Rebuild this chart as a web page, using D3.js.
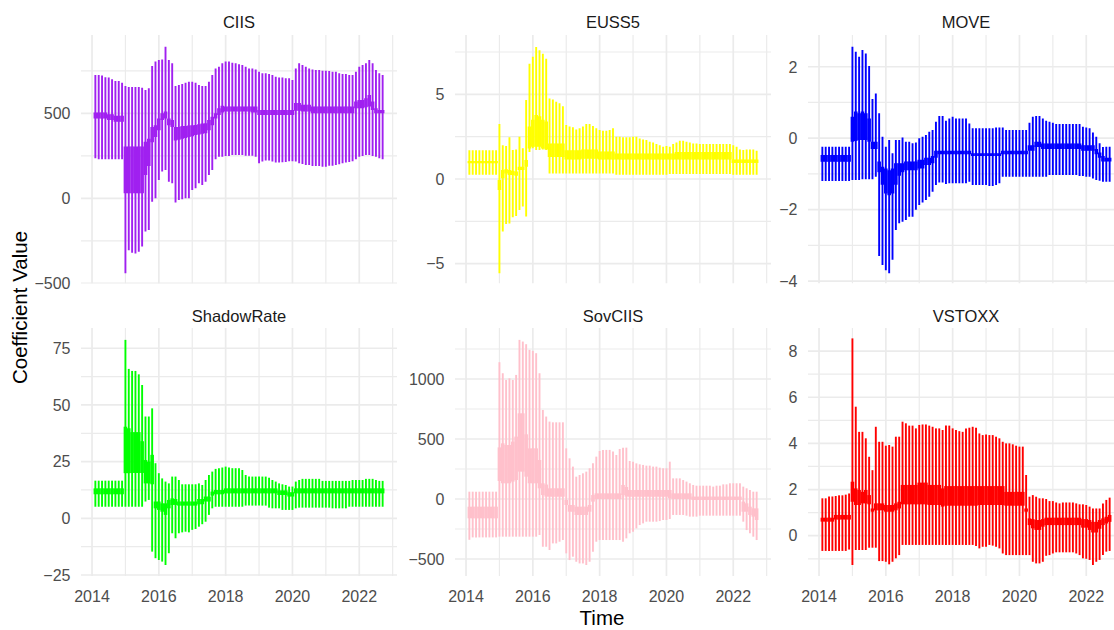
<!DOCTYPE html>
<html><head><meta charset="utf-8">
<script src="https://cdn.jsdelivr.net/npm/d3@7"></script>
<style>html,body{margin:0;padding:0;background:#fff;overflow:hidden}svg{display:block}</style>
</head><body>
<svg id="chart" width="1114" height="630"></svg>
<script>
const years = [2014.1,2014.2,2014.3,2014.4,2014.5,2014.6,2014.7,2014.8,2014.9,2015.0,
2015.1,2015.2,2015.3,2015.4,2015.5,2015.6,2015.7,2015.8,2015.9,2016.0,
2016.1,2016.2,2016.3,2016.4,2016.5,2016.6,2016.7,2016.8,2016.9,2017.0,
2017.1,2017.2,2017.3,2017.4,2017.5,2017.6,2017.7,2017.8,2017.9,2018.0,
2018.1,2018.2,2018.3,2018.4,2018.5,2018.6,2018.7,2018.8,2018.9,2019.0,
2019.1,2019.2,2019.3,2019.4,2019.5,2019.6,2019.7,2019.8,2019.9,2020.0,
2020.1,2020.2,2020.3,2020.4,2020.5,2020.6,2020.7,2020.8,2020.9,2021.0,
2021.1,2021.2,2021.3,2021.4,2021.5,2021.6,2021.7,2021.8,2021.9,2022.0,
2022.1,2022.2,2022.3,2022.4,2022.5,2022.6,2022.7];

const xMajorTicks = [2014,2016,2018,2020,2022];
const xMinorTicks = [2015,2017,2019,2021,2023];

// ---- CIIS ----
const ciisHi95 = [725,725,722,712,710,700,690,690,680,660,
655,655,655,655,650,637,647,778,804,813,
817,892,813,794,660,666,672,680,686,686,
680,666,660,660,686,725,764,774,794,804,
804,798,794,788,784,774,764,764,758,745,
735,735,731,725,715,711,711,706,706,696,
764,794,784,774,764,758,755,755,751,751,
749,745,745,735,731,731,725,725,745,774,
784,794,813,794,755,735,725];
const ciisLo95 = [235,229,229,229,229,229,229,229,229,-441,
-305,-320,-325,-315,-284,-196,-186,-20,0,108,
157,167,98,88,-25,-10,-6,0,0,49,
59,88,78,98,137,167,229,245,245,249,
249,255,255,255,255,250,250,250,245,206,
216,222,222,216,210,210,212,214,218,218,
216,206,202,196,196,190,190,190,186,186,
192,192,196,200,206,210,214,218,229,245,
249,255,255,249,245,235,229];
const ciisLo68 = [470,470,470,470,460,460,450,450,450,29,
29,29,29,29,29,137,190,330,360,400,
460,470,430,420,340,345,350,355,360,365,
372,375,380,382,400,430,470,490,505,510,
510,510,510,510,510,510,510,505,505,490,
490,490,490,490,490,490,490,490,490,490,
515,515,510,510,510,500,500,500,500,500,
500,500,500,500,500,500,500,500,530,530,
530,535,540,520,500,500,500];
const ciisHi68 = [505,505,505,505,495,495,485,485,485,304,
304,304,304,304,304,333,350,420,430,470,
500,510,470,460,420,420,425,425,428,430,
431,435,440,441,460,480,500,530,545,540,
540,540,540,540,540,540,540,540,540,520,
520,520,520,520,520,520,520,520,520,520,
560,560,550,550,550,540,540,540,540,540,
540,540,540,540,540,540,540,540,570,578,
578,588,608,570,530,520,520];

// ---- EUSS5 ----
const eussHi95 = [1.7,1.7,1.7,1.7,1.7,1.7,1.7,1.7,1.7,3.25,
2.0,1.95,2.46,1.71,1.75,2.5,1.81,4.67,6.8,7.22,
7.8,7.6,7.4,7.1,4.76,4.7,4.57,4.47,4.3,3.19,
3.1,3.05,2.93,3.0,3.1,3.25,3.25,3.13,3.0,2.9,
2.85,2.85,2.9,3.0,2.5,2.5,2.46,2.46,2.46,2.5,
2.5,2.4,2.34,2.3,2.2,2.15,2.07,2.0,1.9,1.95,
1.9,2.07,2.15,2.26,2.26,2.2,2.15,2.1,2.1,2.07,
2.07,2.07,2.07,2.07,2.07,2.07,2.07,2.07,2.07,2.0,
1.9,1.75,1.71,1.75,1.75,1.75,1.67];
const eussLo95 = [0.25,0.25,0.25,0.25,0.25,0.25,0.25,0.25,0.25,-5.57,
-3.1,-2.66,-2.62,-2.26,-2.18,-1.83,-1.63,-2.22,1.6,1.81,
1.71,1.71,1.75,1.71,0.33,0.33,0.33,0.33,0.33,0.33,
0.33,0.33,0.33,0.33,0.33,0.33,0.33,0.33,0.33,0.33,
0.33,0.33,0.33,0.33,0.25,0.25,0.25,0.25,0.25,0.25,
0.25,0.25,0.25,0.25,0.25,0.25,0.25,0.25,0.25,0.25,
0.3,0.3,0.3,0.3,0.3,0.3,0.3,0.3,0.3,0.3,
0.3,0.3,0.3,0.3,0.3,0.3,0.3,0.3,0.3,0.25,
0.25,0.25,0.25,0.25,0.25,0.25,0.25];
const eussLo68 = [0.93,0.93,0.93,0.93,0.93,0.93,0.93,0.93,0.93,-0.65,
0.04,0.33,0.24,0.24,0.2,0.53,0.53,0.73,1.8,1.9,
1.9,1.9,1.8,1.75,1.3,1.3,1.3,1.3,1.3,1.16,
1.16,1.16,1.16,1.16,1.2,1.2,1.2,1.2,1.2,1.16,
1.16,1.16,1.16,1.16,1.16,1.16,1.16,1.16,1.16,1.16,
1.16,1.16,1.16,1.16,1.16,1.16,1.16,1.16,1.16,1.16,
1.16,1.16,1.16,1.16,1.16,1.16,1.16,1.16,1.16,1.16,
1.16,1.16,1.16,1.16,1.16,1.16,1.16,1.16,1.16,0.95,
0.95,0.95,0.95,0.95,0.95,0.95,0.95];
const eussHi68 = [1.07,1.07,1.07,1.07,1.07,1.07,1.07,1.07,1.07,-0.06,
0.53,0.57,0.53,0.49,0.45,0.73,0.73,1.12,3.1,3.5,
3.78,3.7,3.5,3.4,2.1,2.1,2.1,2.1,2.1,1.7,
1.7,1.7,1.7,1.7,1.75,1.75,1.75,1.75,1.75,1.62,
1.62,1.62,1.62,1.62,1.5,1.5,1.5,1.5,1.5,1.5,
1.5,1.5,1.5,1.5,1.5,1.5,1.5,1.5,1.5,1.5,
1.5,1.5,1.6,1.6,1.6,1.6,1.6,1.6,1.6,1.6,
1.6,1.6,1.6,1.6,1.6,1.6,1.6,1.6,1.6,1.15,
1.15,1.15,1.15,1.15,1.15,1.15,1.15];

// ---- MOVE ----
const moveHi95 = [-0.24,-0.24,-0.24,-0.24,-0.24,-0.24,-0.24,-0.24,-0.24,2.56,
2.42,2.28,2.47,2.37,2.02,1.1,1.25,0.7,0.04,-0.24,
-0.05,-0.42,-0.05,-0.05,0.02,-0.1,-0.1,-0.14,-0.12,0.0,
0.04,0.09,0.18,0.23,0.46,0.62,0.62,0.49,0.55,0.6,
0.55,0.55,0.55,0.55,0.41,0.28,0.28,0.28,0.28,0.28,
0.28,0.28,0.3,0.3,0.3,0.23,0.23,0.23,0.23,0.23,
0.23,0.23,0.43,0.6,0.62,0.62,0.55,0.49,0.46,0.43,
0.4,0.4,0.4,0.4,0.4,0.4,0.4,0.4,0.32,0.3,
0.28,0.16,0.04,-0.14,-0.25,-0.24,-0.24];
const moveLo95 = [-1.2,-1.2,-1.2,-1.2,-1.2,-1.2,-1.2,-1.2,-1.2,-1.17,
-1.17,-1.17,-1.15,-1.15,-1.15,-1.15,-1.08,-3.3,-3.55,-3.7,
-3.78,-3.4,-2.57,-2.38,-2.34,-2.29,-2.2,-2.2,-2.0,-1.87,
-1.8,-1.73,-1.64,-1.5,-1.31,-1.24,-1.24,-1.28,-1.26,-1.26,
-1.26,-1.26,-1.26,-1.26,-1.22,-1.31,-1.31,-1.31,-1.31,-1.31,
-1.34,-1.34,-1.31,-1.26,-1.08,-1.08,-1.08,-1.08,-1.08,-1.08,
-1.08,-1.08,-1.08,-1.08,-1.08,-1.08,-1.08,-1.08,-1.03,-1.03,
-1.03,-1.03,-1.03,-1.03,-1.03,-1.03,-1.03,-1.06,-1.06,-1.08,
-1.08,-1.13,-1.17,-1.19,-1.22,-1.22,-1.22];
const moveLo68 = [-0.66,-0.66,-0.66,-0.66,-0.66,-0.66,-0.66,-0.66,-0.66,-0.1,
-0.08,-0.05,-0.05,-0.05,-0.1,-0.3,-0.3,-0.95,-1.3,-1.55,
-1.6,-1.55,-1.3,-1.05,-0.95,-0.9,-0.9,-0.9,-0.9,-0.85,
-0.85,-0.75,-0.75,-0.7,-0.55,-0.45,-0.45,-0.45,-0.45,-0.45,
-0.45,-0.45,-0.45,-0.45,-0.45,-0.5,-0.5,-0.5,-0.5,-0.5,
-0.5,-0.5,-0.5,-0.5,-0.45,-0.45,-0.45,-0.45,-0.45,-0.45,
-0.45,-0.45,-0.35,-0.35,-0.25,-0.25,-0.3,-0.3,-0.3,-0.3,
-0.3,-0.3,-0.3,-0.3,-0.3,-0.3,-0.3,-0.3,-0.35,-0.35,
-0.35,-0.35,-0.45,-0.55,-0.65,-0.65,-0.65];
const moveHi68 = [-0.47,-0.47,-0.47,-0.47,-0.47,-0.47,-0.47,-0.47,-0.47,0.6,
0.75,0.7,0.75,0.7,0.55,-0.1,-0.1,-0.65,-0.8,-0.85,
-0.9,-0.85,-0.7,-0.7,-0.7,-0.65,-0.65,-0.65,-0.65,-0.6,
-0.6,-0.55,-0.55,-0.5,-0.35,-0.35,-0.35,-0.35,-0.35,-0.35,
-0.35,-0.35,-0.35,-0.35,-0.35,-0.42,-0.42,-0.42,-0.42,-0.42,
-0.42,-0.42,-0.42,-0.42,-0.35,-0.35,-0.35,-0.35,-0.35,-0.35,
-0.35,-0.35,-0.2,-0.2,-0.1,-0.1,-0.15,-0.15,-0.15,-0.15,
-0.15,-0.15,-0.15,-0.15,-0.15,-0.15,-0.15,-0.15,-0.2,-0.2,
-0.2,-0.2,-0.3,-0.4,-0.5,-0.55,-0.55];

// ---- ShadowRate ----
const shadowHi95 = [16.6,16.6,16.6,16.6,16.6,16.6,16.6,16.6,16.6,78.7,
65.9,65,65,63.5,58.8,44.9,44.9,48.5,24.3,19.9,
17.6,16.2,15.4,18.4,18.4,16.9,15,15,15,15,
15,15.4,14.7,16.9,19.1,20.6,21.8,22.1,22.4,22.8,
22.4,22.1,22.1,22.1,21.3,19.1,18.4,18.4,18.4,18.4,
18.4,18.4,17.9,16.9,16.2,15.4,15,14.7,14,14,
16.2,16.9,17.4,17.4,17.4,17.4,17.4,17.4,16.5,16.5,
16.5,16.5,16.5,16.5,16.5,16.5,16.5,16.9,16.9,16.9,
16.9,17.4,17.4,17.4,16.9,16.5,16.5];
const shadowLo95 = [5.1,5.1,5.1,5.1,5.1,5.1,5.1,5.1,5.1,5.1,
5.1,5.1,5.1,5.1,5.1,7.4,8.1,-14.7,-17.6,-18.4,
-19.1,-20.6,-15.4,-6.6,-8.8,-6.6,-6.2,-5.9,-6.2,-5.1,
-4.7,-3.7,-2.6,-1.5,1.5,4.4,5.1,5.1,5.1,5.1,
5.1,5.1,5.1,5.1,5.1,5.6,5.6,5.6,5.6,5.6,
5.6,5.6,4.7,4.4,4.4,4.4,3.7,3.7,3.7,3.7,
4.4,4.7,4.7,4.7,4.7,4.7,4.7,4.7,4.7,4.7,
4.7,4.4,4.4,4.4,4.4,4.4,5.1,5.1,5.1,5.1,
5.1,5.1,5.1,5.1,5.1,5.1,5.1];
const shadowLo68 = [10.6,10.6,10.6,10.6,10.6,10.6,10.6,10.6,10.6,19.9,
19.9,20,20,20,20,15.4,15.4,15,4.4,3.7,
2.9,1.5,4.4,5.9,5.9,5.6,5.6,5.6,5.6,5.6,
5.6,6.2,6.2,7.4,7.4,10,10.6,10.6,10.6,11,
11,11,11,11,11,11,11,11,11,11,
11,11,11,11,11,10.3,10.3,10.3,9.6,9.6,
11,11,11,11,11,11,11,11,11,11,
11,11,11,11,11,11,11,11,11,11,
11,11,11,11,11,11,11];
const shadowHi68 = [13.2,13.2,13.2,13.2,13.2,13.2,13.2,13.2,13.2,40.4,
39.7,38,38,38,34,25.7,25,28,7.4,7.4,
6.6,6.6,8.1,8.8,8.5,7.4,7.4,7.4,7.4,7.4,
7.4,8.5,8.5,9.6,9.6,11.8,12.5,12.5,12.5,13.2,
13.2,13.2,13.2,13.2,13.2,13.2,13.2,13.2,13.2,13.2,
13.2,13.2,13.2,13.2,13.2,12.3,12.3,12.3,11.5,11.5,
13.2,13.2,13.2,13.2,13.2,13.2,13.2,13.2,13.2,13.2,
13.2,13.2,13.2,13.2,13.2,13.2,13.2,13.2,13.2,13.2,
13.2,13.2,13.2,13.2,13.2,13.2,13.2];

// ---- SovCIIS ----
const sovHi95 = [61,61,61,61,61,61,61,61,61,1140,
1048,992,1006,992,1034,1326,1312,1290,1243,1234,
1215,1048,742,687,645,639,639,639,639,422,
339,270,186,200,214,228,256,297,353,400,
409,409,409,395,367,417,428,428,317,311,
297,289,284,278,278,270,270,261,256,256,
311,172,172,172,158,145,131,117,111,111,
111,111,111,103,111,111,122,122,131,131,
131,131,103,89,75,61,61];
const sovLo95 = [-340,-320,-320,-320,-320,-320,-320,-320,-320,-314,
-314,-314,-314,-314,-314,-314,-314,-314,-314,-314,
-314,-300,-398,-398,-425,-370,-370,-356,-342,-453,
-509,-481,-523,-537,-537,-550,-523,-439,-356,-342,
-342,-342,-342,-342,-342,-342,-356,-328,-286,-272,
-245,-217,-203,-189,-189,-189,-189,-184,-175,-175,
-167,-133,-133,-133,-133,-139,-147,-147,-147,-139,
-139,-139,-139,-139,-139,-139,-139,-139,-139,-139,
-139,-139,-189,-259,-286,-314,-342];
const sovLo68 = [-161,-161,-161,-161,-161,-161,-161,-161,-161,150,
131,131,131,145,158,228,228,186,131,131,
131,89,33,20,19,19,19,19,19,-50,
-106,-106,-133,-133,-133,-133,-106,-22,0,0,
0,0,0,0,0,0,33,20,19,19,
19,19,19,19,19,19,19,19,19,19,
6,0,0,0,0,0,0,-8,-8,-8,
-8,-8,-8,-8,-8,-8,-8,-8,-8,-8,
-8,-8,-106,-106,-133,-147,-175];
const sovHi68 = [-64,-64,-64,-64,-64,-64,-64,-64,-64,430,
464,450,450,478,520,714,714,539,422,422,
422,325,131,120,89,89,89,89,89,-8,
-50,-50,-64,-64,-64,-64,-50,33,47,47,
47,47,47,47,47,47,117,100,75,75,
75,75,75,75,75,75,75,75,75,75,
75,47,47,47,47,47,47,20,20,20,
20,20,20,20,20,20,20,20,20,20,
20,20,-22,-36,-64,-78,-78];

// ---- VSTOXX ----
const vstoxxHi95 = [1.62,1.62,1.7,1.7,1.72,1.75,1.75,1.78,1.83,8.55,
5.59,4.5,4.5,4.22,3.42,2.84,4.72,4.07,4.07,3.9,
3.93,3.86,4.29,4.29,4.94,4.87,4.77,4.77,4.65,4.8,
4.82,4.82,4.77,4.72,4.65,4.65,4.58,4.77,4.77,4.65,
4.58,4.53,4.5,4.65,4.68,4.72,4.68,4.43,4.36,4.39,
4.36,4.36,4.29,4.22,4.07,4.0,4.0,3.96,3.9,3.86,
3.86,2.63,1.69,1.76,1.69,1.62,1.62,1.59,1.5,1.5,
1.44,1.4,1.44,1.44,1.44,1.44,1.4,1.36,1.36,1.33,
1.26,1.18,1.18,1.18,1.4,1.55,1.65];
const vstoxxLo95 = [-0.66,-0.66,-0.66,-0.66,-0.66,-0.66,-0.66,-0.66,-0.6,-1.27,
-0.62,-0.62,-0.62,-0.62,-0.52,-0.52,-0.52,-1.1,-1.1,-1.13,
-1.24,-1.13,-0.98,-0.84,-0.4,-0.4,-0.4,-0.4,-0.4,-0.4,
-0.4,-0.4,-0.4,-0.4,-0.4,-0.4,-0.4,-0.4,-0.4,-0.4,
-0.4,-0.4,-0.4,-0.4,-0.4,-0.4,-0.45,-0.55,-0.48,-0.48,
-0.4,-0.43,-0.48,-0.55,-0.77,-0.84,-0.84,-0.84,-0.84,-0.84,
-0.84,-0.84,-0.84,-1.13,-1.2,-1.2,-1.13,-0.87,-0.84,-0.77,
-0.72,-0.72,-0.72,-0.72,-0.72,-0.72,-0.77,-0.84,-0.98,-1.0,
-1.05,-1.27,-1.13,-1.05,-0.84,-0.69,-0.66];
const vstoxxLo68 = [0.61,0.61,0.61,0.61,0.7,0.7,0.7,0.7,0.7,1.47,
1.33,1.33,1.4,1.4,1.36,1.04,1.1,1.1,1.1,1.04,
1.04,1.04,1.1,1.18,1.36,1.36,1.36,1.36,1.36,1.36,
1.36,1.36,1.33,1.33,1.33,1.33,1.26,1.3,1.3,1.3,
1.3,1.3,1.3,1.3,1.3,1.3,1.3,1.33,1.33,1.33,
1.33,1.33,1.33,1.33,1.33,1.3,1.3,1.3,1.3,1.3,
1.3,1.04,0.46,0.32,0.25,0.25,0.39,0.46,0.46,0.46,
0.46,0.46,0.46,0.46,0.46,0.46,0.46,0.46,0.35,0.35,
0.25,0.14,0.14,0.3,0.46,0.53,0.6];
const vstoxxHi68 = [0.78,0.78,0.78,0.78,0.9,0.9,0.9,0.9,0.9,2.34,
2.05,1.98,1.9,1.98,1.76,1.18,1.4,1.4,1.4,1.33,
1.33,1.33,1.4,1.47,2.2,2.2,2.2,2.2,2.2,2.3,
2.3,2.3,2.2,2.2,2.2,2.2,2.05,2.15,2.15,2.15,
2.15,2.15,2.15,2.15,2.15,2.15,2.15,2.15,2.15,2.15,
2.15,2.15,2.15,2.15,2.15,1.9,1.9,1.9,1.9,1.9,
1.9,1.18,0.75,0.72,0.68,0.68,0.72,0.78,0.78,0.78,
0.78,0.78,0.78,0.78,0.78,0.78,0.78,0.78,0.72,0.72,
0.68,0.6,0.6,0.68,0.75,0.82,0.9];

const panelNames = ["CIIS","EUSS5","MOVE","ShadowRate","SovCIIS","VSTOXX"];
const panelColors = ["#A020F0","#FFFF00","#0000FF","#00FF00","#FFC0CB","#FF0000"];
const yMajor = [[-500,0,500],[-5,0,5],[-4,-2,0,2],[-25,0,25,50,75],[-500,0,500,1000],[0,2,4,6,8]];
const yMinor = [[-250,250,750],[-2.5,2.5,7.5],[-3,-1,1],[-12.5,12.5,37.5,62.5],[-250,250,750,1250],[-1,1,3,5,7]];
const yLimits = [[-501.2,960.6],[-6.17,8.505],[-4.068,2.889],[-25.45,83.94],[-641.7,1425],[-1.746,9.0]];
const seriesData = [
  [ciisLo95,ciisLo68,ciisHi68,ciisHi95],
  [eussLo95,eussLo68,eussHi68,eussHi95],
  [moveLo95,moveLo68,moveHi68,moveHi95],
  [shadowLo95,shadowLo68,shadowHi68,shadowHi95],
  [sovLo95,sovLo68,sovHi68,sovHi95],
  [vstoxxLo95,vstoxxLo68,vstoxxHi68,vstoxxHi95]
];

// ---- layout ----
const colLeft = [81,455,808], panelW = 316;
const rowTop = [35,328], rowBot = [283.5,576];
const xLim = [2013.67,2023.13];
const FONT = "'Liberation Sans', Arial, sans-serif";

const svg = d3.select("#chart");
svg.append("rect").attr("width",1114).attr("height",630).attr("fill","#fff");

panelNames.forEach((name,p)=>{
  const c = p%3, r = Math.floor(p/3);
  const x = d3.scaleLinear().domain(xLim).range([colLeft[c], colLeft[c]+panelW]);
  const y = d3.scaleLinear().domain(yLimits[p]).range([rowBot[r], rowTop[r]]);
  const g = svg.append("g");
  const clipId = "clip"+p;
  svg.append("clipPath").attr("id",clipId).append("rect")
     .attr("x",colLeft[c]).attr("y",rowTop[r]).attr("width",panelW).attr("height",rowBot[r]-rowTop[r]);
  const grid = g.append("g").attr("clip-path",`url(#${clipId})`);
  // minor grid
  grid.selectAll(".ymin").data(yMinor[p]).join("line")
    .attr("x1",colLeft[c]).attr("x2",colLeft[c]+panelW)
    .attr("y1",d=>y(d)).attr("y2",d=>y(d)).attr("stroke","#EBEBEB").attr("stroke-width",1.2);
  grid.selectAll(".xmin").data(xMinorTicks).join("line")
    .attr("y1",rowTop[r]).attr("y2",rowBot[r])
    .attr("x1",d=>x(d)).attr("x2",d=>x(d)).attr("stroke","#EBEBEB").attr("stroke-width",1.2);
  grid.selectAll(".ymaj").data(yMajor[p]).join("line")
    .attr("x1",colLeft[c]).attr("x2",colLeft[c]+panelW)
    .attr("y1",d=>y(d)).attr("y2",d=>y(d)).attr("stroke","#EBEBEB").attr("stroke-width",1.7);
  grid.selectAll(".xmaj").data(xMajorTicks).join("line")
    .attr("y1",rowTop[r]).attr("y2",rowBot[r])
    .attr("x1",d=>x(d)).attr("x2",d=>x(d)).attr("stroke","#EBEBEB").attr("stroke-width",1.7);

  const [lo95,lo68,hi68,hi95] = seriesData[p];
  const pts = years.map((t,i)=>({t,lo95:lo95[i],lo68:lo68[i],hi68:hi68[i],hi95:hi95[i]}));
  const marks = g.append("g").attr("clip-path",`url(#${clipId})`);
  marks.selectAll(".thin").data(pts).join("line")
    .attr("x1",d=>x(d.t)).attr("x2",d=>x(d.t))
    .attr("y1",d=>y(d.lo95)).attr("y2",d=>y(d.hi95))
    .attr("stroke",panelColors[p]).attr("stroke-width",1.9);
  marks.selectAll(".thick").data(pts).join("line")
    .attr("x1",d=>x(d.t)).attr("x2",d=>x(d.t))
    .attr("y1",d=>y(d.lo68)).attr("y2",d=>y(d.hi68))
    .attr("stroke",panelColors[p]).attr("stroke-width",3.6);

  // y tick labels
  g.selectAll(".ylab").data(yMajor[p]).join("text")
    .attr("x",colLeft[c]-10.5).attr("y",d=>y(d)).attr("dy","0.36em")
    .attr("text-anchor","end").attr("font-family",FONT).attr("font-size",16)
    .attr("fill","#4D4D4D").text(d=>d3.format("")(d));
  // x tick labels on bottom row
  if (r===1) {
    g.selectAll(".xlab").data(xMajorTicks).join("text")
      .attr("x",d=>x(d)).attr("y",602).attr("text-anchor","middle")
      .attr("font-family",FONT).attr("font-size",16).attr("fill","#4D4D4D").text(d=>d);
  }
  // strip title
  g.append("text").attr("x",colLeft[c]+panelW/2).attr("y",r===0?28:322)
    .attr("text-anchor","middle").attr("font-family",FONT).attr("font-size",16.5)
    .attr("fill","#1A1A1A").text(name);
});

svg.append("text").attr("x",602).attr("y",625).attr("text-anchor","middle")
  .attr("font-family",FONT).attr("font-size",20.5).attr("fill","#000").text("Time");
svg.append("text").attr("transform","translate(27,307.5) rotate(-90)").attr("text-anchor","middle")
  .attr("font-family",FONT).attr("font-size",20.5).attr("fill","#000").text("Coefficient Value");
</script>
</body></html>
